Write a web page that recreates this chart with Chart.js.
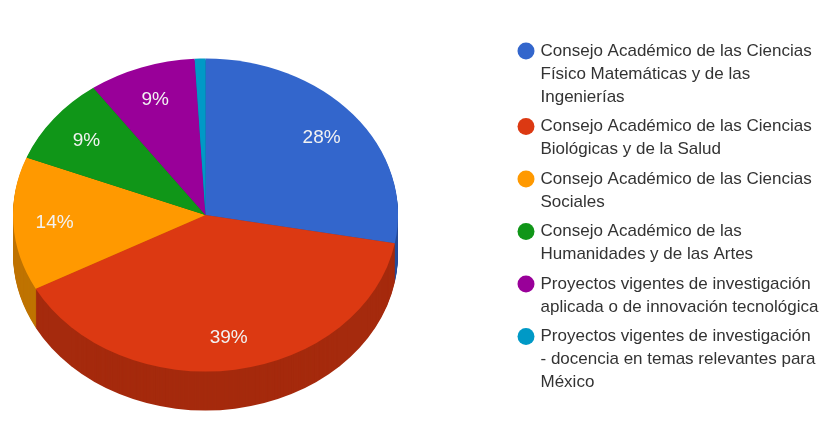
<!DOCTYPE html>
<html>
<head>
<meta charset="utf-8">
<style>
  html, body { margin: 0; padding: 0; background: #fff; }
  #wrap { width: 822px; height: 428px; }
</style>
<script src="https://cdn.jsdelivr.net/npm/chart.js@4/dist/chart.umd.min.js"></script>
</head>
<body>
<div id="wrap"><canvas id="chart-pie" width="822" height="428"></canvas></div>
<script>
const categories = [
  ['Consejo Académico de las Ciencias', 'Físico Matemáticas y de las', 'Ingenierías'],
  ['Consejo Académico de las Ciencias', 'Biológicas y de la Salud'],
  ['Consejo Académico de las Ciencias', 'Sociales'],
  ['Consejo Académico de las', 'Humanidades y de las Artes'],
  ['Proyectos vigentes de investigación', 'aplicada o de innovación tecnológica'],
  ['Proyectos vigentes de investigación', '- docencia en temas relevantes para', 'México']
];
const values = [27.9, 39.3, 13.8, 9.1, 9.0, 0.9];
const topColors = ['#3366cc', '#dc3912', '#ff9900', '#109618', '#990099', '#0099c6'];
const sideColors = ['#264c99', '#a52a0d', '#bf7300', '#0c7112', '#730073', '#007394'];

const FONT = '"Liberation Sans", Arial, sans-serif';
const PIE_X = 205.5, PIE_Y = 215, RADIUS = 192.5, TILT = 156.5 / 192.5, DEPTH = 39;

// squash the pie into an ellipse and stack darker copies under it for the 3D rim
function tiltTo(ctx, arc, dy) {
  ctx.translate(PIE_X, PIE_Y + dy);
  ctx.scale(1, TILT);
  ctx.translate(-arc.x, -arc.y);
}

const tiltedPie = {
  id: 'tiltedPie',
  afterLayout(chart) {
    const lg = chart.legend;
    const w = lg.width;
    lg.left = 513.5;
    lg.right = lg.left + w;
    lg.top = 36;
    lg.bottom = lg.top + lg.height;
  },
  beforeDatasetsDraw(chart) {
    const ctx = chart.ctx;
    const arcs = chart.getDatasetMeta(0).data;
    for (let dy = DEPTH; dy > 0; dy--) {
      arcs.forEach((arc, i) => {
        const opts = arc.options;
        arc.options = { ...opts, backgroundColor: sideColors[i] };
        ctx.save();
        tiltTo(ctx, arc, dy);
        arc.draw(ctx);
        ctx.restore();
        arc.options = opts;
      });
    }
    ctx.save();
    tiltTo(ctx, arcs[0], 0);
  },
  afterDatasetsDraw(chart) {
    const ctx = chart.ctx;
    ctx.restore();
    const arcs = chart.getDatasetMeta(0).data;
    const total = values.reduce((a, b) => a + b, 0);
    ctx.save();
    ctx.fillStyle = '#f2f2f2';
    ctx.font = '19px ' + FONT;
    ctx.textAlign = 'center';
    ctx.textBaseline = 'middle';
    arcs.forEach((arc, i) => {
      const pct = values[i] / total * 100;
      if (pct < 2) return;
      const mid = (arc.startAngle + arc.endAngle) / 2;
      const x = PIE_X + Math.cos(mid) * RADIUS * 0.785;
      const y = PIE_Y + Math.sin(mid) * RADIUS * 0.785 * TILT + 1;
      ctx.fillText(Math.round(pct) + '%', x, y);
    });
    ctx.restore();
  }
};

new Chart(document.getElementById('chart-pie'), {
  type: 'pie',
  data: {
    labels: categories,
    datasets: [{ data: values, backgroundColor: topColors, borderWidth: 0 }]
  },
  options: {
    responsive: false,
    animation: false,
    radius: RADIUS,
    plugins: {
      tooltip: { enabled: false },
      legend: {
        position: 'right',
        align: 'start',
        labels: {
          usePointStyle: true,
          pointStyle: 'circle',
          boxWidth: 12,
          boxHeight: 12,
          padding: 6.5,
          color: '#333',
          font: { family: FONT, size: 17, lineHeight: 23 / 17 }
        }
      }
    }
  },
  plugins: [tiltedPie]
});
</script>
</body>
</html>
